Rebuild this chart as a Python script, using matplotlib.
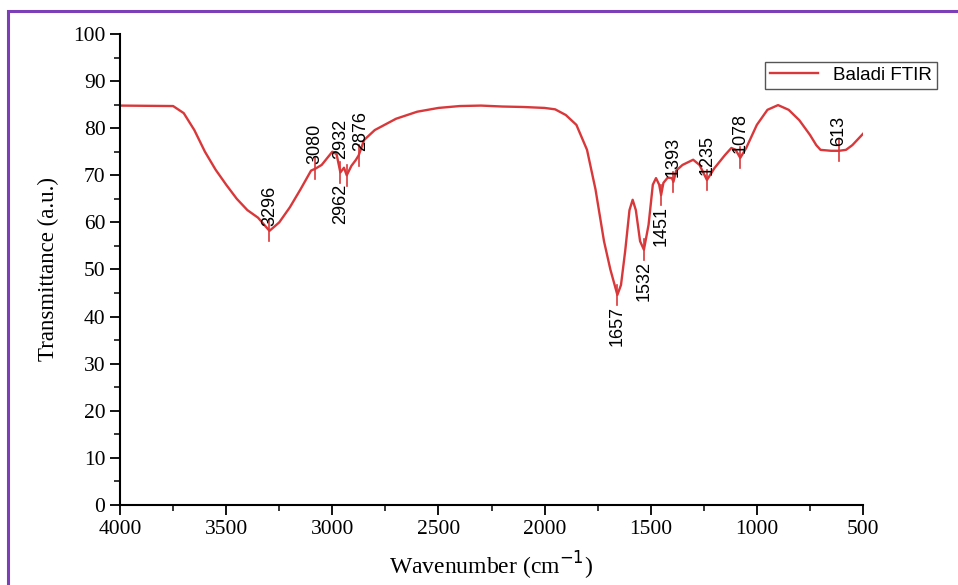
import matplotlib.pyplot as plt
from matplotlib.patches import Rectangle
from matplotlib.ticker import MultipleLocator

# -----------------------------------
# Spectrum data
# -----------------------------------
wavenumber = [4000, 3750, 3700, 3650, 3600, 3550, 3500, 3450, 3400, 3350, 3296,
              3250, 3200, 3150, 3100, 3080, 3050, 3000, 2980, 2962, 2945, 2932,
              2910, 2890, 2876, 2850, 2800, 2700, 2600, 2500, 2400, 2300, 2200,
              2100, 2000, 1950, 1900, 1850, 1800, 1760, 1720, 1690, 1657, 1640,
              1620, 1600, 1585, 1570, 1550, 1532, 1510, 1490, 1475, 1460, 1451,
              1440, 1420, 1400, 1393, 1380, 1350, 1300, 1270, 1235, 1200, 1150,
              1120, 1100, 1078, 1050, 1000, 950, 900, 850, 800, 750, 720, 700,
              650, 613, 580, 550, 500]
transmittance = [84.8, 84.7, 83.2, 79.6, 75.0, 71.2, 68.0, 65.0, 62.6, 61.0, 58.2,
                 60.0, 63.2, 67.0, 71.0, 71.4, 72.2, 75.0, 74.5, 70.6, 71.6, 70.0,
                 72.0, 73.2, 74.2, 77.5, 79.6, 82.0, 83.5, 84.3, 84.7, 84.8, 84.6,
                 84.5, 84.3, 84.0, 82.8, 80.7, 75.4, 67.0, 56.0, 50.0, 44.6, 46.7,
                 54.0, 62.6, 64.8, 62.6, 56.0, 54.2, 59.5, 68.0, 69.4, 68.0, 65.8,
                 68.4, 69.5, 69.4, 68.6, 71.0, 72.2, 73.3, 72.2, 69.0, 71.5, 74.3,
                 75.8, 75.4, 73.7, 75.8, 80.7, 83.9, 84.9, 83.9, 81.7, 78.6, 76.4,
                 75.4, 75.2, 75.2, 75.4, 76.4, 78.8]

peaks = [3296, 3080, 2962, 2932, 2876, 1657, 1532, 1451, 1393, 1235, 1078, 613]
peak_below = [False, False, True, False, False, True, True, True, False, False, False, False]
# small nudges so crowded labels don't collide
label_shift = [0, 0, 0, 28, -8, 0, 0, 0, 0, 0, 0, 0]
label_lift = [0, 0, 0, 2.5, 0, 0, 0, 0, 0, 0, 0, 0]


def value_at(w):
    return transmittance[wavenumber.index(w)]


# -----------------------------------
# Plot
# -----------------------------------
fig = plt.figure(figsize=(9.58, 5.85), dpi=100)
ax = fig.add_axes([0.1253, 0.1368, 0.7755, 0.8051])

ax.plot(wavenumber, transmittance, color="#d9383a", lw=1.7, label="Baladi FTIR")

for w, below, dx, dy in zip(peaks, peak_below, label_shift, label_lift):
    t = value_at(w)
    ax.plot([w, w], [t - 2.2, t + 2.2], color="#d9383a", lw=1.2)
    if below:
        ax.text(w + dx, t - 2.4 - dy, str(w), rotation=90, ha="center", va="top",
                family="Liberation Sans", fontsize=13)
    else:
        ax.text(w + dx, t + 1.0 + dy, str(w), rotation=90, ha="center", va="bottom",
                family="Liberation Sans", fontsize=13)

ax.set_xlim(4000, 500)
ax.set_ylim(0, 100)
ax.xaxis.set_major_locator(MultipleLocator(500))
ax.xaxis.set_minor_locator(MultipleLocator(250))
ax.yaxis.set_major_locator(MultipleLocator(10))
ax.yaxis.set_minor_locator(MultipleLocator(5))
ax.tick_params(which="major", direction="out", length=7, width=1.3)
ax.tick_params(which="minor", direction="out", length=4, width=1.1)
for lbl in ax.get_xticklabels() + ax.get_yticklabels():
    lbl.set_family("Liberation Serif")
    lbl.set_fontsize(15.5)

for side in ["top", "right"]:
    ax.spines[side].set_visible(False)
for side in ["left", "bottom"]:
    ax.spines[side].set_linewidth(1.5)

ax.set_xlabel("Wavenumber (cm$^{-1}$)", family="Liberation Serif", fontsize=17, labelpad=8)
ax.set_ylabel("Transmittance (a.u.)", family="Liberation Serif", fontsize=16.5, labelpad=10)

leg = ax.legend(loc="upper right", bbox_to_anchor=(0.978, 0.894), borderaxespad=0,
                bbox_transform=fig.transFigure, prop={"family": "Liberation Sans", "size": 13.5},
                fancybox=False, edgecolor="#555555", borderpad=0.25, handlelength=2.6,
                framealpha=1)
leg.get_frame().set_linewidth(1.0)

# purple frame around the figure
fig.patches.append(Rectangle((8 / 958, -0.05), 1.1, 0.05 + (585 - 11) / 585,
                             transform=fig.transFigure, fill=False,
                             edgecolor="#7d3fb8", lw=2.2))

fig.savefig("out.png", dpi=100)
